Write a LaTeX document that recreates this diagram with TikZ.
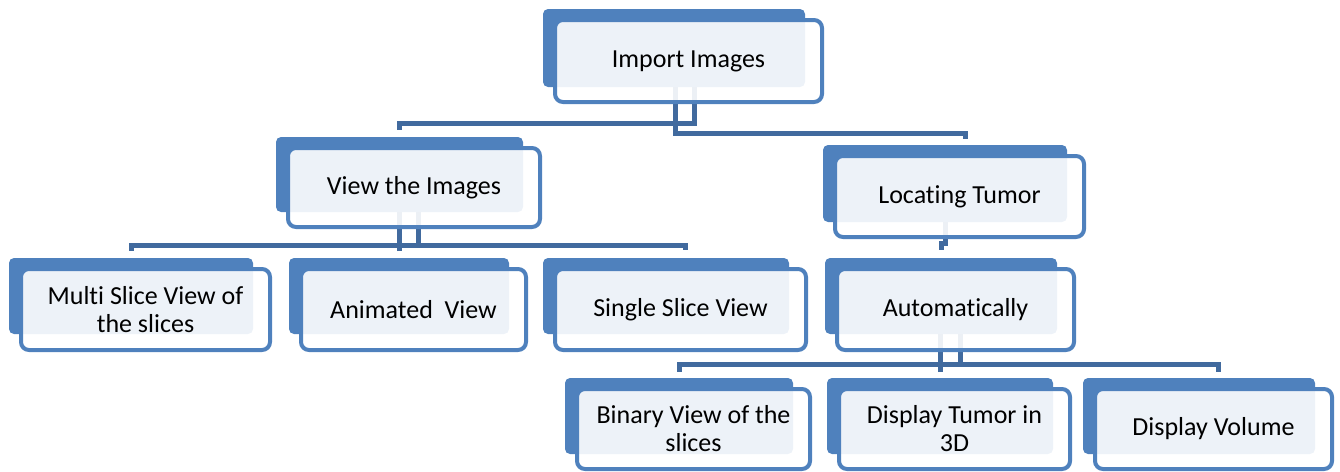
\documentclass[tikz,border=0pt]{standalone}
\usepackage{fontspec}
\setmainfont{Carlito}[Ligatures=NoCommon]
\usetikzlibrary{positioning}

\definecolor{boxblue}{RGB}{79,129,189}
\definecolor{linkblue}{RGB}{65,106,158}

\tikzset{
  backbox/.style={fill=boxblue, rounded corners=5pt, inner sep=0pt, outer sep=0pt},
  frontbox/.style={draw=boxblue, line width=4pt, fill=white, fill opacity=0.9,
    text opacity=1, rounded corners=8pt, inner sep=0pt, outer sep=0pt,
    align=center, font=\fontsize{26}{28}\selectfont,
    below right=11pt and 12pt of #1},
  link/.style={draw=linkblue, line width=5pt},
}

\begin{document}
\begin{tikzpicture}[x=1pt, y=-1pt]
  \useasboundingbox (0,0) rectangle (1340,471);

  % back plates
  \node[backbox, minimum width=262, minimum height=78] (importB) at (674,48) {};
  \node[backbox, minimum width=247, minimum height=75] (viewB) at (399.5,174.5) {};
  \node[backbox, minimum width=244, minimum height=77] (locateB) at (945,183.5) {};
  \node[backbox, minimum width=244, minimum height=76] (multiB) at (131,296) {};
  \node[backbox, minimum width=220, minimum height=76] (animB) at (399,296) {};
  \node[backbox, minimum width=246, minimum height=76] (singleB) at (666,296) {};
  \node[backbox, minimum width=232, minimum height=76] (autoB) at (941,296) {};
  \node[backbox, minimum width=228, minimum height=76] (binaryB) at (679,416) {};
  \node[backbox, minimum width=226, minimum height=76] (tumorB) at (940,416) {};
  \node[backbox, minimum width=232, minimum height=76] (volumeB) at (1199,416) {};

  % connectors
  \draw[link] ([xshift=20pt]importB.south) -- ++(0,36) -| ([yshift=7pt]viewB.north);
  \draw[link] ([xshift=1pt]importB.south) -- ++(0,46) -| ([xshift=20pt,yshift=6pt]locateB.north);
  \draw[link] ([xshift=19pt]viewB.south) -- ++(0,33) -| ([yshift=7pt]multiB.north);
  \draw[link] ([yshift=7pt]animB.north) -- (animB.north |- viewB.south);
  \draw[link] ([xshift=19pt]viewB.south) -- ++(0,33) -| ([xshift=19pt,yshift=8pt]singleB.north);
  \draw[link] (locateB.south) -- ++(0,21) -| ([yshift=8pt]autoB.north);
  \draw[link] ([xshift=19pt]autoB.south) -- ++(0,30) -| ([yshift=6pt]binaryB.north);
  \draw[link] ([yshift=6pt]tumorB.north) -- (tumorB.north |- autoB.south);
  \draw[link] ([xshift=19pt]autoB.south) -- ++(0,30) -| ([xshift=19pt,yshift=6pt]volumeB.north);

  % front plates
  \node[frontbox=importB.north west, minimum width=267, minimum height=82] (import) {Import Images};
  \node[frontbox=viewB.north west, minimum width=252, minimum height=79] (view) {View the Images};
  \node[frontbox=locateB.north west, minimum width=249, minimum height=81] (locate) {Locating Tumor};
  \node[frontbox=multiB.north west, minimum width=249, minimum height=81] (multi) {Multi Slice View of\\the slices};
  \node[frontbox=animB.north west, minimum width=225, minimum height=81] (anim) {Animated~ View};
  \node[frontbox=singleB.north west, minimum width=251, minimum height=81] (single) {Single Slice View};
  \node[frontbox=autoB.north west, minimum width=237, minimum height=81] (auto) {Automatically};
  \node[frontbox=binaryB.north west, minimum width=233, minimum height=80] (binary) {Binary View of the\\slices};
  \node[frontbox=tumorB.north west, minimum width=231, minimum height=80] (tumor) {Display Tumor in\\3D};
  \node[frontbox=volumeB.north west, minimum width=237, minimum height=80] (volume) {Display Volume};
\end{tikzpicture}
\end{document}
